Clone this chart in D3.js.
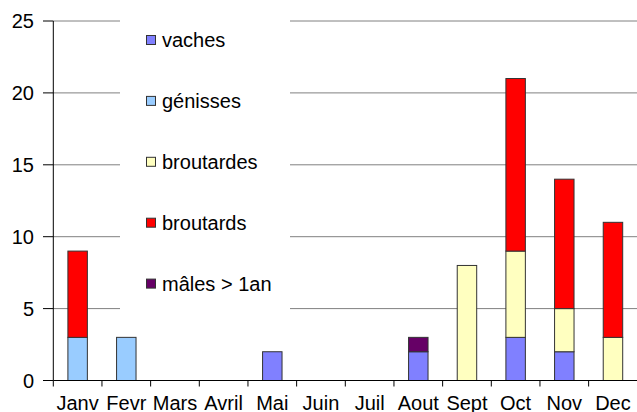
<!DOCTYPE html>
<html><head><meta charset="utf-8">
<script src="https://cdn.jsdelivr.net/npm/d3@7/dist/d3.min.js"></script>
<style>body{margin:0;background:#fff}svg{display:block}text{font-family:"Liberation Sans",Arial,sans-serif;fill:#000}</style>
</head><body>
<script>
const months = ["Janv","Fevr","Mars","Avril","Mai","Juin","Juil","Aout","Sept","Oct","Nov","Dec"];
const seriesNames = ["vaches","génisses","broutardes","broutards","mâles > 1an"];
const seriesColors = ["#8080FF","#99CCFF","#FFFFC0","#FF0000","#660066"];
const vaches     = [0,0,0,0,2,0,0,2,0,3,2,0];
const genisses   = [3,3,0,0,0,0,0,0,0,0,0,0];
const broutardes = [0,0,0,0,0,0,0,0,8,6,3,3];
const broutards  = [6,0,0,0,0,0,0,0,0,12,9,8];
const males      = [0,0,0,0,0,0,0,1,0,0,0,0];
const yTicks = [0,5,10,15,20,25];

const W=637,H=412;
const svg=d3.select("body").append("svg").attr("width",W).attr("height",H);
const pLeft=53.3, pRight=637.3, pTop=21, pBottom=380.5;
const x=d3.scaleBand().domain(months).range([pLeft,pRight]).paddingInner(0.6).paddingOuter(0.3);
const y=d3.scaleLinear().domain([0,25]).range([pBottom,pTop]);

const seriesData=[vaches,genisses,broutardes,broutards,males];
const table=months.map((m,i)=>{const o={month:m};seriesNames.forEach((s,k)=>o[s]=seriesData[k][i]);return o;});
const stack=d3.stack().keys(seriesNames)(table);

// gridlines
svg.append("g").selectAll("line").data(yTicks.filter(d=>d>0)).join("line")
  .attr("x1",pLeft).attr("x2",pRight).attr("y1",d=>y(d)).attr("y2",d=>y(d))
  .attr("stroke","#808080").attr("stroke-width",1);

// legend background
const legX=120, legY=5;
svg.append("rect").attr("x",legX).attr("y",legY).attr("width",170).attr("height",315).attr("fill","#fff");
const leg=svg.append("g").selectAll("g").data(seriesNames).join("g")
  .attr("transform",(d,i)=>`translate(146,${40+i*60.9})`);
leg.append("rect").attr("x",0.5).attr("y",-4.5).attr("width",9).attr("height",9)
  .attr("fill",(d,i)=>seriesColors[i]).attr("stroke","#333").attr("stroke-width",1);
leg.append("text").attr("x",16).attr("y",0).attr("dy","0.35em").attr("font-size",20).text(d=>d);

// bars
svg.append("g").selectAll("g").data(stack).join("g")
  .attr("fill",(d,i)=>seriesColors[i])
  .selectAll("rect").data(d=>d.filter(p=>p[1]-p[0]>0)).join("rect")
  .attr("x",d=>x(d.data.month)).attr("width",x.bandwidth())
  .attr("y",d=>y(d[1])).attr("height",d=>y(d[0])-y(d[1]))
  .attr("stroke","#333").attr("stroke-width",1);

// y axis
svg.append("line").attr("x1",pLeft).attr("x2",pLeft).attr("y1",pTop).attr("y2",pBottom).attr("stroke","#000");
svg.append("g").selectAll("line").data(yTicks).join("line")
  .attr("x1",43).attr("x2",pLeft).attr("y1",d=>y(d)).attr("y2",d=>y(d)).attr("stroke","#000");
svg.append("g").selectAll("text").data(yTicks).join("text")
  .attr("x",34).attr("y",d=>y(d)).attr("dy","0.35em").attr("text-anchor","end").attr("font-size",20).text(d=>d);

// x axis
svg.append("line").attr("x1",pLeft).attr("x2",pRight).attr("y1",pBottom).attr("y2",pBottom).attr("stroke","#000");
const step=x.step();
svg.append("g").selectAll("line").data(months).join("line")
  .attr("x1",(d,i)=>pLeft+i*step).attr("x2",(d,i)=>pLeft+i*step).attr("y1",pBottom).attr("y2",pBottom+6).attr("stroke","#000");
svg.append("g").selectAll("text").data(months).join("text")
  .attr("x",d=>x(d)+x.bandwidth()/2).attr("y",410).attr("text-anchor","middle").attr("font-size",20).text(d=>d);
</script>
</body></html>
